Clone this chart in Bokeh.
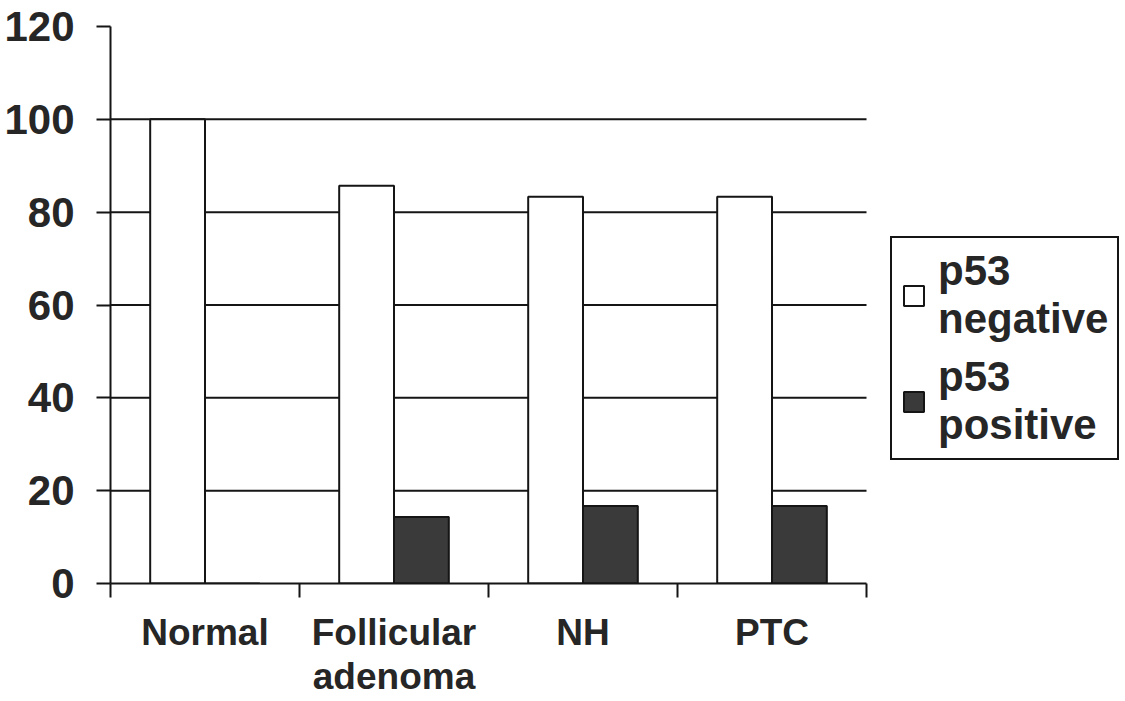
import numpy as np
from bokeh.plotting import figure
from bokeh.models import (Range1d, FixedTicker, ColumnDataSource,
                          Legend, LegendItem)
from bokeh.embed import file_html
from bokeh.resources import INLINE

# ---- data ----
categories = ["Normal", "Follicular\nadenoma", "NH", "PTC"]
p53_negative = [100.0, 85.7, 83.3, 83.3]
p53_positive = [0.0, 14.3, 16.7, 16.7]
y_ticks = [0, 20, 40, 60, 80, 100, 120]
grid_values = [20, 40, 60, 80, 100]
series_names = ["p53\nnegative", "p53\npositive"]

# ---- style ----
FONT = "Liberation Sans"
INK = "#151515"
TXT = "#262626"
DARK = "#3a3a3a"
BAR_W = 0.29
RIGHT_PAD = 1.365   # extra x room (in category widths) that holds the legend

n = len(categories)
idx = np.arange(n) + 0.5

p = figure(width=1124, height=700, x_range=Range1d(0, n + RIGHT_PAD),
           y_range=Range1d(0, 120),
           output_backend="svg", toolbar_location=None,
           min_border_left=110, min_border_right=0, min_border_top=26,
           min_border_bottom=117)
p.outline_line_color = None
p.background_fill_color = "white"
p.xgrid.grid_line_color = None
p.ygrid.grid_line_color = None

# horizontal grid lines, limited to the category area
p.segment(x0=[0] * len(grid_values), x1=[n] * len(grid_values),
          y0=grid_values, y1=grid_values, line_color=INK, line_width=2)

# y axis
ya = p.yaxis[0]
ya.ticker = FixedTicker(ticks=y_ticks)
ya.minor_tick_line_color = None
ya.major_tick_in = 0
ya.major_tick_out = 14
ya.major_tick_line_width = 2
ya.major_tick_line_color = INK
ya.axis_line_width = 2
ya.axis_line_color = INK
ya.major_label_text_font = FONT
ya.major_label_text_font_style = "bold"
ya.major_label_text_font_size = "42px"
ya.major_label_text_color = TXT
ya.major_label_standoff = 22

# x axis: labels at category centres, tick marks at category boundaries
xa = p.xaxis[0]
xa.bounds = (0, n)
xa.ticker = FixedTicker(ticks=list(idx), minor_ticks=list(range(n + 1)))
xa.major_label_overrides = {float(c): lab for c, lab in zip(idx, categories)}
xa.major_tick_in = 0
xa.major_tick_out = 0
xa.minor_tick_in = 0
xa.minor_tick_out = 14
xa.minor_tick_line_width = 2
xa.minor_tick_line_color = INK
xa.axis_line_width = 2
xa.axis_line_color = INK
xa.major_label_text_font = FONT
xa.major_label_text_font_style = "bold"
xa.major_label_text_font_size = "37px"
xa.major_label_text_color = TXT
xa.major_label_text_line_height = 1.08
xa.major_label_standoff = 14

# bars
src = ColumnDataSource(dict(xn=idx - BAR_W / 2, xp=idx + BAR_W / 2,
                            neg=p53_negative, pos=p53_positive))
r_neg = p.vbar(x="xn", top="neg", width=BAR_W, source=src,
               fill_color="white", line_color=INK, line_width=2)
r_pos = p.vbar(x="xp", top="pos", width=BAR_W, source=src,
               fill_color=DARK, line_color=INK, line_width=2)

# legend
legend = Legend(items=[LegendItem(label=series_names[0], renderers=[r_neg]),
                       LegendItem(label=series_names[1], renderers=[r_pos])],
                location=(780, 123))
legend.label_text_font = FONT
legend.label_text_font_style = "bold"
legend.label_text_font_size = "42px"
legend.label_text_color = TXT
legend.label_text_line_height = 1.0
legend.glyph_width = 25
legend.glyph_height = 25
legend.label_standoff = 12
legend.spacing = 10
legend.padding = 9
legend.margin = 0
legend.border_line_color = INK
legend.border_line_alpha = 1
legend.border_line_width = 2
legend.background_fill_color = "white"
legend.background_fill_alpha = 1
p.add_layout(legend)

open("out.html", "w").write(file_html(p, INLINE))
